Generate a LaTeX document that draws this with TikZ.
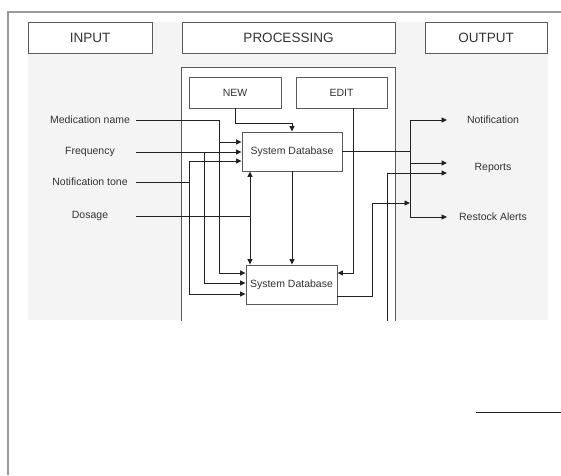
\documentclass[tikz,border=0pt]{standalone}
\usepackage{fontspec}
\setmainfont{Liberation Sans}
\usetikzlibrary{arrows.meta}
\definecolor{panel}{HTML}{F4F4F4}
\definecolor{boxline}{HTML}{5A5A5A}
\definecolor{wirec}{HTML}{222222}
\definecolor{ink}{HTML}{333333}
\definecolor{framec}{HTML}{9A9A9A}
\begin{document}
\begin{tikzpicture}[x=1pt,y=-1pt,
  box/.style={draw=boxline, fill=white, line width=0.9pt, inner sep=0pt, text=ink,
    font=\fontsize{10.5}{12}\selectfont},
  hdr/.style={box, minimum height=31pt, font=\fontsize{13.5}{15}\selectfont},
  lbl/.style={inner sep=0pt, text=ink, font=\fontsize{10.5}{12}\selectfont},
  wire/.style={draw=wirec, line width=0.9pt},
  arr/.style={wire, -{Triangle[length=5.5pt,width=5pt]}}]
\useasboundingbox (0,0) rectangle (561,475);

% outer frame and shaded panel
\draw[framec, line width=1.2pt] (8,475) -- (8,12) -- (561,12);
\fill[panel] (28,22) rectangle (548,320);

% processing container (open at the bottom)
\fill[white] (181,67) rectangle (395,321);
\draw[boxline, line width=0.9pt] (181,321) -- (181,67) -- (395,67) -- (395,321);

% column headers
\node[hdr, minimum width=124pt] (input) at (90,37.5) {INPUT};
\node[hdr, minimum width=213pt] (proc) at (288.5,37.5) {PROCESSING};
\node[hdr, minimum width=122pt] (output) at (486,37.5) {OUTPUT};

% processing blocks
\node[box, minimum width=92pt, minimum height=31pt] (new) at (235,92.5) {NEW};
\node[box, minimum width=91pt, minimum height=31pt] (edit) at (341.5,92.5) {EDIT};
\node[box, minimum width=100pt, minimum height=39pt] (db1) at (292,151.5) {System Database};
\node[box, minimum width=91pt, minimum height=39pt] (db2) at (291.5,284.5) {System Database};

% input labels
\node[lbl] (med) at (90,120) {Medication name};
\node[lbl] (freq) at (90,152) {Frequency};
\node[lbl] (tone) at (90,182) {Notification tone};
\node[lbl] (dose) at (90,216) {Dosage};

% output labels
\node[lbl] (notif) at (493,120) {Notification};
\node[lbl] (rep) at (493,168) {Reports};
\node[lbl] (restock) at (493,217) {Restock Alerts};

% NEW and EDIT feeds
\draw[arr] (new.south) -- ++(0,15) -| (db1.north);
\draw[arr] (353,0 |- edit.south) |- (db2.east |- 0,273);

% medication name
\draw[arr] (136,0 |- med) -| (219,142) -- (db1.west |- 0,142);
\draw[arr] (219,142) |- (db2.west |- 0,273);

% frequency
\draw[arr] (136,0 |- freq) -- (db1.west |- freq);
\draw[arr] (204,0 |- freq) |- (db2.west |- 0,283);

% notification tone
\draw[wire] (136,0 |- tone) -- (189,0 |- tone);
\draw[arr] (189,0 |- tone) |- (db1.west |- 0,161);
\draw[arr] (189,0 |- tone) |- (db2.west |- 0,294);

% dosage
\draw[wire] (136,0 |- dose) -- (250,0 |- dose);
\draw[arr] (250,0 |- dose) -- (250,0 |- db1.south);
\draw[arr] (250,0 |- dose) -- (250,0 |- db2.north);

% upper to lower database
\draw[arr] (db1.south) -- (db1.south |- db2.north);

% outputs
\draw[wire] (db1.east) -- (410,0 |- db1.east);
\draw[wire] (410,0 |- notif) -- (410,0 |- restock);
\draw[arr] (410,0 |- notif) -- (447,0 |- notif);
\draw[arr] (410,163) -- (447,163);
\draw[arr] (410,0 |- restock) -- (447,0 |- restock);
\draw[arr] (db2.east |- 0,296) -| (372,203) -- (410,203);
\draw[arr] (387,321) |- (447,173);

% stray rule at lower right
\draw[wirec, line width=0.9pt] (476,412) -- (561,412);
\end{tikzpicture}
\end{document}
